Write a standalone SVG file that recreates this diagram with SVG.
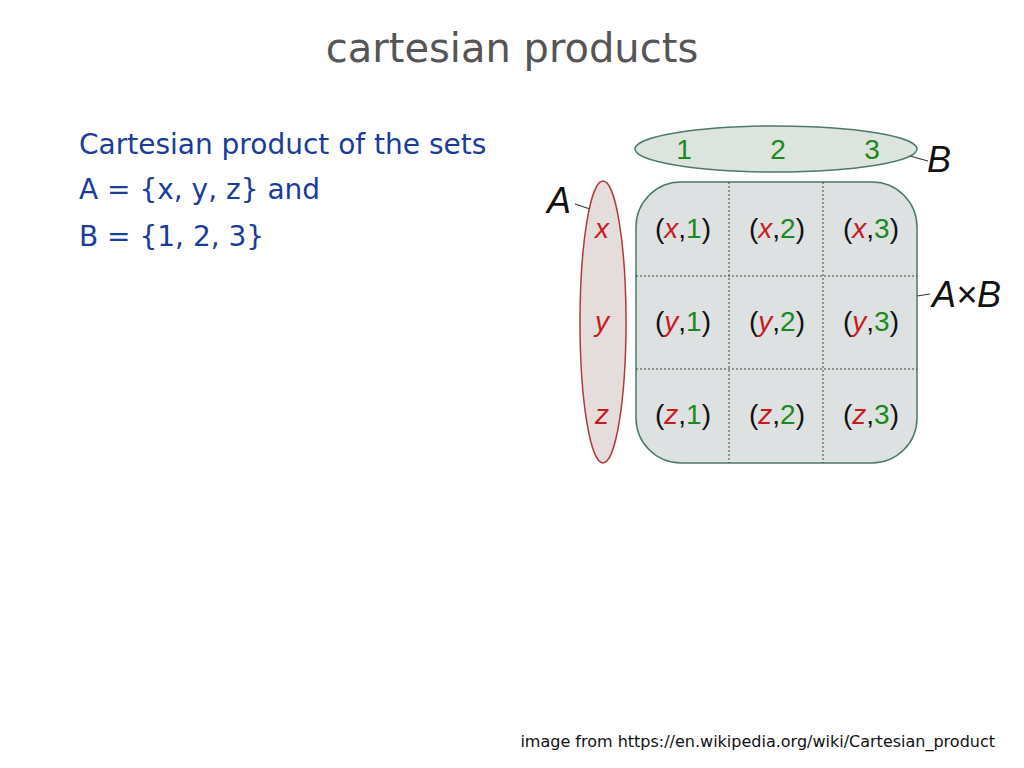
<svg xmlns="http://www.w3.org/2000/svg" width="1024" height="768" viewBox="0 0 1024 768">
<style>
.t{font-family:"DejaVu Sans",sans-serif}
.c{font-family:"Liberation Sans",Arial,sans-serif;font-size:28px;text-anchor:middle}
.r{fill:#c8191e;font-style:italic}
.g{fill:#1a8a1a}
.k{fill:#111}
.lab{font-family:"Liberation Sans",Arial,sans-serif;font-size:36px;font-style:italic;fill:#111}
.grid{stroke:#444;stroke-width:1;stroke-dasharray:2,2}
</style>
<rect width="1024" height="768" fill="#fff"/>
<text class="t" x="512" y="62" font-size="40" fill="#555" text-anchor="middle">cartesian products</text>
<g class="t" font-size="28" fill="#1a3c9a">
<text x="79" y="154">Cartesian product of the sets</text>
<text x="79" y="199">A = {x, y, z} and</text>
<text x="79" y="246">B = {1, 2, 3}</text>
</g>
<g id="connectors" stroke="#333" stroke-width="1.2">
<line x1="575" y1="204" x2="590" y2="209"/>
<line x1="910" y1="156" x2="928" y2="161"/>
<line x1="917" y1="296" x2="930" y2="294"/>
</g>
<g id="B">
<ellipse cx="776" cy="149" rx="141" ry="23" fill="#dde3dd" stroke="#4a7a6a" stroke-width="1.5"/>
<text class="c g" x="684" y="159">1</text>
<text class="c g" x="778" y="159">2</text>
<text class="c g" x="872" y="159">3</text>
<text class="lab" x="927" y="172" font-style="normal">B</text>
</g>
<g id="A">
<ellipse cx="603" cy="322" rx="23" ry="141" fill="#e5dcdc" stroke="#b03a3a" stroke-width="1.5"/>
<text class="c r" x="602" y="238">x</text>
<text class="c r" x="602" y="331">y</text>
<text class="c r" x="602" y="424">z</text>
<text class="lab" x="547" y="213" font-style="normal">A</text>
</g>
<g id="AxB">
<rect x="636" y="182" width="281" height="281" rx="45" fill="#dde1e1" stroke="#4a7a6a" stroke-width="1.5"/>
<line class="grid" x1="729" y1="182" x2="729" y2="463"/>
<line class="grid" x1="823" y1="182" x2="823" y2="463"/>
<line class="grid" x1="636" y1="276" x2="917" y2="276"/>
<line class="grid" x1="636" y1="369" x2="917" y2="369"/>
<text class="lab" x="932" y="307" font-style="normal">A×B</text>
<g class="c k">
<text x="683" y="238"><tspan>(</tspan><tspan class="r">x</tspan><tspan>,</tspan><tspan class="g">1</tspan><tspan>)</tspan></text>
<text x="777" y="238"><tspan>(</tspan><tspan class="r">x</tspan><tspan>,</tspan><tspan class="g">2</tspan><tspan>)</tspan></text>
<text x="871" y="238"><tspan>(</tspan><tspan class="r">x</tspan><tspan>,</tspan><tspan class="g">3</tspan><tspan>)</tspan></text>
<text x="683" y="331"><tspan>(</tspan><tspan class="r">y</tspan><tspan>,</tspan><tspan class="g">1</tspan><tspan>)</tspan></text>
<text x="777" y="331"><tspan>(</tspan><tspan class="r">y</tspan><tspan>,</tspan><tspan class="g">2</tspan><tspan>)</tspan></text>
<text x="871" y="331"><tspan>(</tspan><tspan class="r">y</tspan><tspan>,</tspan><tspan class="g">3</tspan><tspan>)</tspan></text>
<text x="683" y="424"><tspan>(</tspan><tspan class="r">z</tspan><tspan>,</tspan><tspan class="g">1</tspan><tspan>)</tspan></text>
<text x="777" y="424"><tspan>(</tspan><tspan class="r">z</tspan><tspan>,</tspan><tspan class="g">2</tspan><tspan>)</tspan></text>
<text x="871" y="424"><tspan>(</tspan><tspan class="r">z</tspan><tspan>,</tspan><tspan class="g">3</tspan><tspan>)</tspan></text>
</g>
</g>
<text class="t" x="995" y="747" font-size="16" fill="#111" text-anchor="end">image from https://en.wikipedia.org/wiki/Cartesian_product</text>
</svg>
